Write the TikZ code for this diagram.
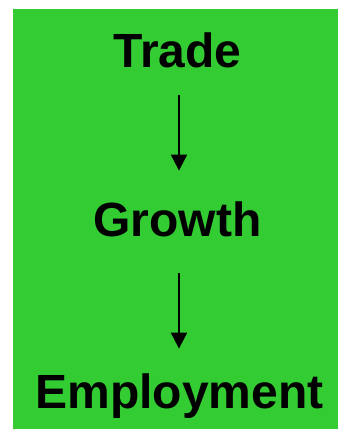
\documentclass[tikz,border=0pt]{standalone}
\usepackage{fontspec}
\setmainfont{Liberation Sans}
\usetikzlibrary{arrows.meta}
\definecolor{bggreen}{HTML}{33CC33}
\tikzset{
  lbl/.style={inner sep=0pt, text height=35pt, text depth=0pt, font=\fontsize{48}{56}\selectfont\bfseries},
  arr/.style={line width=2pt, -{Triangle[width=16pt,length=16pt]}}
}
\begin{document}
\begin{tikzpicture}[x=1pt,y=1pt]
\useasboundingbox (0,0) rectangle (339,429);
\fill[bggreen] (13,0) rectangle (338,420);
\node[lbl, anchor=south] (trade) at (177.5,361) {Trade};
\node[lbl, anchor=south] (growth) at (177.5,192) {Growth};
\node[lbl, anchor=south] (employ) at (179.5,20) {Employment};
\draw[arr, shorten <=27pt, shorten >=31pt] ([xshift=1.5pt]trade.south) -- ([xshift=1.5pt]trade.south |- growth.north);
\draw[arr, shorten <=36pt, shorten >=25pt] ([xshift=1.5pt]growth.south) -- ([xshift=1.5pt]growth.south |- employ.north);
\end{tikzpicture}
\end{document}
